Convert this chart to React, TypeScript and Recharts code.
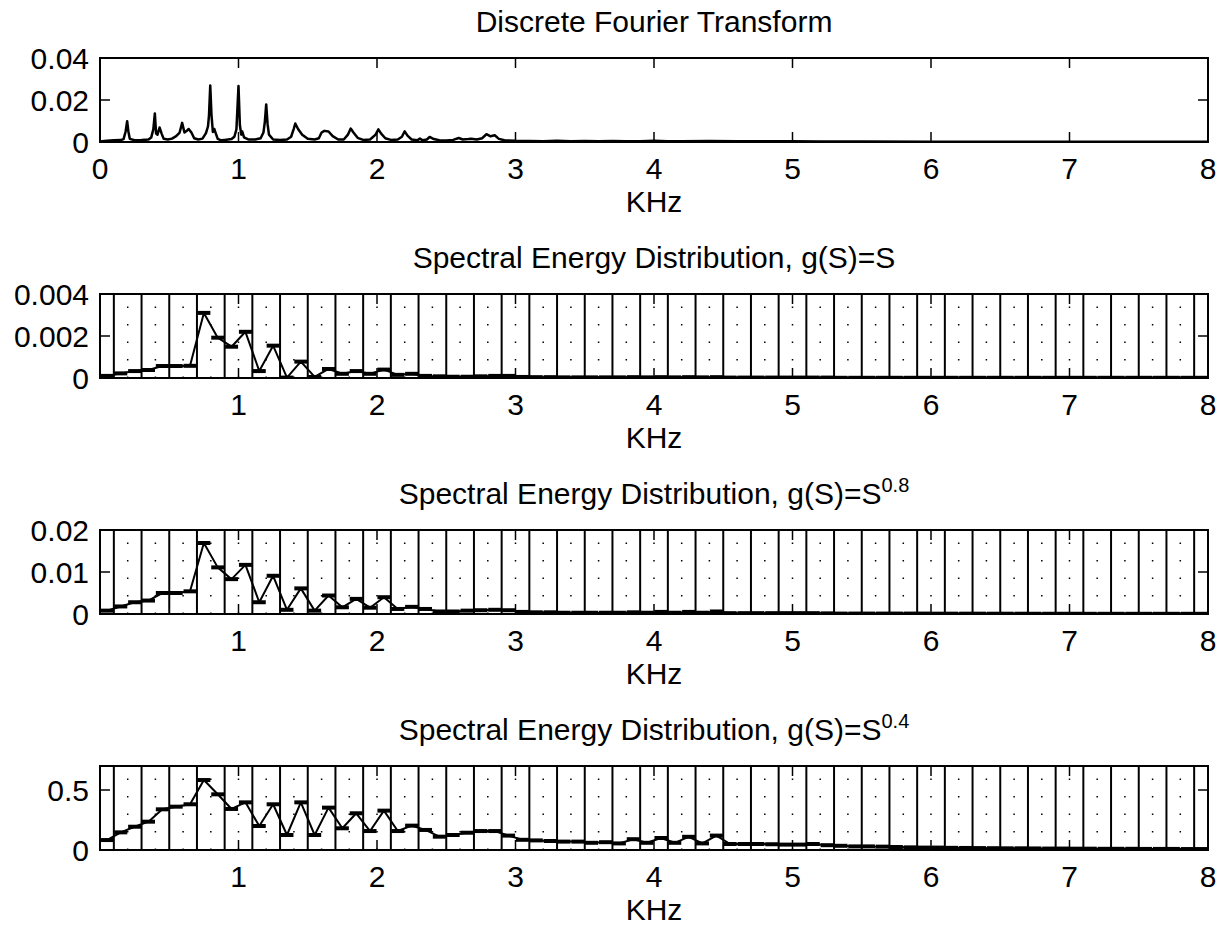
import React from 'react';
import { LineChart, Line, XAxis, YAxis, ReferenceLine, ReferenceArea } from 'recharts';

const W = 1229;
const LEFT = 100;
const RIGHT = 1208;
const BLOCK = 236;
const BOX_TOP = 58;
const BOX_H = 84;
const FONT = '"Liberation Sans", Arial, Helvetica, sans-serif';

// DFT magnitude (KHz, magnitude)
const dftFreq = [
  0, 0.05, 0.1, 0.15, 0.17, 0.185, 0.196, 0.205, 0.215, 0.25, 0.3, 0.35, 0.37, 0.385, 0.396, 0.405, 0.415, 0.43,
  0.445, 0.46, 0.49, 0.52, 0.55, 0.575, 0.593, 0.61, 0.625, 0.64, 0.66, 0.68, 0.71, 0.74, 0.765, 0.78, 0.787,
  0.796, 0.805, 0.815, 0.825, 0.834, 0.85, 0.875, 0.9, 0.95, 0.97, 0.985, 1.0, 1.01, 1.02, 1.027, 1.04, 1.07,
  1.12, 1.16, 1.18, 1.19, 1.2, 1.21, 1.22, 1.25, 1.3, 1.35, 1.38, 1.4, 1.41, 1.43, 1.46, 1.5, 1.55, 1.58, 1.6,
  1.62, 1.65, 1.68, 1.72, 1.76, 1.79, 1.81, 1.83, 1.86, 1.9, 1.95, 1.99, 2.01, 2.03, 2.06, 2.1, 2.15, 2.18, 2.2,
  2.22, 2.25, 2.29, 2.31, 2.33, 2.36, 2.38, 2.41, 2.45, 2.5, 2.55, 2.59, 2.62, 2.66, 2.68, 2.72, 2.76, 2.79,
  2.82, 2.85, 2.88, 2.92, 3.0, 3.1, 3.2, 3.3, 3.4, 3.5, 3.6, 3.7, 3.8, 3.9, 4.0, 4.1, 4.2, 4.4, 4.6, 4.8, 5.0,
  5.2, 5.5, 6.0, 6.5, 7.0, 7.5, 8.0,
];
const dftMag = [
  0.0002, 0.0006, 0.0008, 0.0009, 0.0014, 0.005, 0.0099, 0.005, 0.0015, 0.0008, 0.0009, 0.0012, 0.0022, 0.006,
  0.0136, 0.004, 0.0035, 0.0069, 0.004, 0.0015, 0.0012, 0.0016, 0.0028, 0.0045, 0.0091, 0.0045, 0.0052, 0.0062,
  0.0045, 0.0018, 0.0012, 0.0016, 0.0042, 0.0075, 0.0128, 0.0269, 0.0128, 0.0048, 0.0062, 0.0045, 0.0015,
  0.0008, 0.001, 0.0014, 0.0025, 0.006, 0.0267, 0.008, 0.0035, 0.005, 0.0022, 0.0012, 0.0012, 0.0018, 0.0045,
  0.0095, 0.0179, 0.0085, 0.0035, 0.0012, 0.001, 0.0012, 0.0025, 0.0065, 0.0088, 0.0062, 0.0035, 0.0015, 0.0012,
  0.0018, 0.0045, 0.0053, 0.005, 0.0028, 0.0012, 0.0012, 0.0035, 0.0064, 0.0045, 0.002, 0.001, 0.0012, 0.0035,
  0.006, 0.004, 0.0018, 0.001, 0.0012, 0.0025, 0.0051, 0.003, 0.0012, 0.0008, 0.0016, 0.0008, 0.0012, 0.0024,
  0.0014, 0.0008, 0.0007, 0.001, 0.0019, 0.0012, 0.0014, 0.0016, 0.0012, 0.0018, 0.0037, 0.0027, 0.0032, 0.0015,
  0.0008, 0.0006, 0.0005, 0.0004, 0.0006, 0.0004, 0.0005, 0.0003, 0.0005, 0.0003, 0.0004, 0.0006, 0.0003,
  0.0004, 0.0005, 0.0004, 0.0003, 0.0003, 0.0002, 0.0002, 0.0001, 0.0001, 0.0001, 0.0001, 0.0001,
];

// spectral energy per 0.1 KHz slot, g(S)=S
const energyS = [
  0.0001, 0.00022, 0.00033, 0.00038, 0.00057, 0.00057, 0.00058, 0.0031, 0.00192, 0.00149,
  0.0022, 0.00033, 0.00154, 0.00002, 0.00078, 0.00005, 0.00043, 0.0002, 0.00033, 0.0002,
  0.0004, 0.00015, 0.0002, 0.0001, 0.00008, 0.00006, 0.00006, 0.00008, 0.0001, 0.0001,
  0.00005, 0.00004, 0.00004, 0.00003, 0.00003, 0.00003, 0.00003, 0.00003, 0.00004, 0.00003,
  0.00004, 0.00003, 0.00004, 0.00003, 0.00004, 0.00002, 0.00002, 0.00002, 0.00002, 0.00002,
  0.00002, 0.00002, 0.00002, 0.00001, 0.00001, 0.00001, 0.00001, 0.00001, 0.00001, 0.00001,
  0.00001, 0.00001, 0.00001, 0.00001, 0.00001, 0.00001, 0.00001, 0.00001, 0.00001, 0.00001,
  0.00001, 0.00001, 0.00001, 0.00001, 0.00001, 0.00001, 0.00001, 0.00001, 0.00001, 0.00001,
];

// g(S)=S^0.8
const energyS08 = [
  0.0008, 0.0018, 0.0028, 0.0032, 0.005, 0.005, 0.0054, 0.0169, 0.0111, 0.0083,
  0.0117, 0.0028, 0.0091, 0.001, 0.0061, 0.0008, 0.0044, 0.0016, 0.0036, 0.0015,
  0.004, 0.0012, 0.0017, 0.0012, 0.0006, 0.0006, 0.0008, 0.0009, 0.001, 0.0009,
  0.0005, 0.0004, 0.0004, 0.0003, 0.0003, 0.0003, 0.0003, 0.0003, 0.0004, 0.0003,
  0.0005, 0.0003, 0.0005, 0.0003, 0.0006, 0.0002, 0.0002, 0.0002, 0.0002, 0.0002,
  0.0002, 0.0002, 0.00015, 0.0001, 0.0001, 0.0001, 0.0001, 0.0001, 0.0001, 0.0001,
  0.00008, 0.00008, 0.00008, 0.00008, 0.00007, 0.00007, 0.00007, 0.00006, 0.00006, 0.00006,
  0.00006, 0.00005, 0.00005, 0.00005, 0.00005, 0.00005, 0.00005, 0.00005, 0.00005, 0.00005,
];

// g(S)=S^0.4
const energyS04 = [
  0.083, 0.147, 0.194, 0.236, 0.339, 0.361, 0.381, 0.583, 0.464, 0.342,
  0.397, 0.2, 0.381, 0.125, 0.397, 0.125, 0.353, 0.181, 0.306, 0.158,
  0.328, 0.158, 0.203, 0.167, 0.111, 0.125, 0.144, 0.158, 0.158, 0.12,
  0.085, 0.08, 0.075, 0.07, 0.07, 0.06, 0.065, 0.055, 0.09, 0.06,
  0.1, 0.06, 0.11, 0.055, 0.12, 0.05, 0.05, 0.05, 0.048, 0.045,
  0.045, 0.05, 0.04, 0.035, 0.03, 0.03, 0.028, 0.025, 0.022, 0.02,
  0.02, 0.018, 0.017, 0.016, 0.015, 0.014, 0.014, 0.013, 0.012, 0.012,
  0.011, 0.011, 0.01, 0.01, 0.01, 0.009, 0.009, 0.009, 0.008, 0.008,
];

const SLOT = 0.1;
const xTicksAll = [0, 1, 2, 3, 4, 5, 6, 7, 8];
const xTicksNoZero = [1, 2, 3, 4, 5, 6, 7, 8];
const bandEdges = Array.from({ length: 40 }, (_, i) => +(0.1 + 0.2 * i).toFixed(1));
const gridLines = Array.from({ length: 39 }, (_, i) => +(0.2 + 0.2 * i).toFixed(1));

const dftRows = dftFreq.map((f, i) => ({ f, v: dftMag[i] }));
const slotRows = (vals: number[]) => vals.map((v, i) => ({ f: (i + 0.5) * SLOT, v }));

function XTick({ x, y, payload }: any) {
  return (
    <g>
      <line x1={x} y1={y} x2={x} y2={y - 10} stroke="#000" strokeWidth={1.5} />
      <line x1={x} y1={y - BOX_H} x2={x} y2={y - BOX_H + 10} stroke="#000" strokeWidth={1.5} />
      <text x={x} y={y + 37} textAnchor="middle" fontSize={30} fill="#000">
        {payload.value}
      </text>
    </g>
  );
}

function YTick({ x, y, payload }: any) {
  return (
    <g>
      <line x1={x} y1={y} x2={x + 10} y2={y} stroke="#000" strokeWidth={1.5} />
      <line x1={RIGHT} y1={y} x2={RIGHT - 10} y2={y} stroke="#000" strokeWidth={1.5} />
      <text x={x - 11} y={y} dy="0.36em" textAnchor="end" fontSize={30} fill="#000">
        {String(payload.value)}
      </text>
    </g>
  );
}

const barDot = (props: any) => {
  const { cx, cy, index } = props;
  return <line key={`bar-${index}`} x1={cx - 6.5} y1={cy} x2={cx + 6.5} y2={cy} stroke="#000" strokeWidth={4} />;
};

interface PanelProps {
  row: number;
  title: React.ReactNode;
  data: { f: number; v: number }[];
  ymax: number;
  yTicks: number[];
  xTicks: number[];
  bands?: boolean;
}

function Panel({ row, title, data, ymax, yTicks, xTicks, bands }: PanelProps) {
  const top = row * BLOCK;
  return (
    <div style={{ position: 'absolute', left: 0, top, width: W, height: BLOCK }}>
      <div
        style={{
          position: 'absolute', left: LEFT, width: RIGHT - LEFT, top: BOX_TOP - 36 - 17,
          height: 34, lineHeight: '34px', textAlign: 'center', fontSize: 30,
        }}
      >
        {title}
      </div>
      <LineChart
        width={W}
        height={BLOCK}
        data={data}
        margin={{ top: BOX_TOP, right: W - RIGHT, bottom: 0, left: 0 }}
      >
        <XAxis
          dataKey="f"
          type="number"
          domain={[0, 8]}
          ticks={xTicks}
          interval={0}
          tickSize={0}
          tickMargin={0}
          tickLine={false}
          axisLine={false}
          height={BLOCK - BOX_TOP - BOX_H}
          tick={<XTick />}
        />
        <YAxis
          type="number"
          domain={[0, ymax]}
          ticks={yTicks}
          interval={0}
          width={LEFT}
          tickSize={0}
          tickMargin={0}
          tickLine={false}
          axisLine={false}
          allowDataOverflow
          tick={<YTick />}
        />
        {bands && gridLines.map((g) => (
          <ReferenceLine key={`g-${g}`} x={g} stroke="#000" strokeWidth={1.5} strokeDasharray="1.5 16" />
        ))}
        {bands && bandEdges.map((b) => (
          <ReferenceLine key={`b-${b}`} x={b} stroke="#000" strokeWidth={2} />
        ))}
        <ReferenceArea x1={0} x2={8} y1={0} y2={ymax} fill="none" stroke="#000" strokeWidth={2} ifOverflow="visible" />
        <Line
          dataKey="v"
          type="linear"
          stroke="#000"
          strokeWidth={bands ? 2 : 2.5}
          strokeLinejoin="round"
          dot={bands ? barDot : false}
          activeDot={false}
          isAnimationActive={false}
        />
      </LineChart>
      <div
        style={{
          position: 'absolute', left: LEFT, width: RIGHT - LEFT, top: BOX_TOP + BOX_H + 60 - 17,
          height: 34, lineHeight: '34px', textAlign: 'center', fontSize: 30,
        }}
      >
        KHz
      </div>
    </div>
  );
}

const sup = (s: string) => (
  <span style={{ fontSize: 20, position: 'relative', top: -12 }}>{s}</span>
);

export default function App() {
  return (
    <div
      style={{
        position: 'absolute', left: 0, top: 0, width: W, height: 939,
        background: '#fff', fontFamily: FONT, color: '#000',
      }}
    >
      <Panel row={0} title="Discrete Fourier Transform" data={dftRows} ymax={0.04} yTicks={[0, 0.02, 0.04]} xTicks={xTicksAll} />
      <Panel row={1} title="Spectral Energy Distribution, g(S)=S" data={slotRows(energyS)} ymax={0.004} yTicks={[0, 0.002, 0.004]} xTicks={xTicksNoZero} bands />
      <Panel row={2} title={<>Spectral Energy Distribution, g(S)=S{sup('0.8')}</>} data={slotRows(energyS08)} ymax={0.02} yTicks={[0, 0.01, 0.02]} xTicks={xTicksNoZero} bands />
      <Panel row={3} title={<>Spectral Energy Distribution, g(S)=S{sup('0.4')}</>} data={slotRows(energyS04)} ymax={0.7} yTicks={[0, 0.5]} xTicks={xTicksNoZero} bands />
    </div>
  );
}
